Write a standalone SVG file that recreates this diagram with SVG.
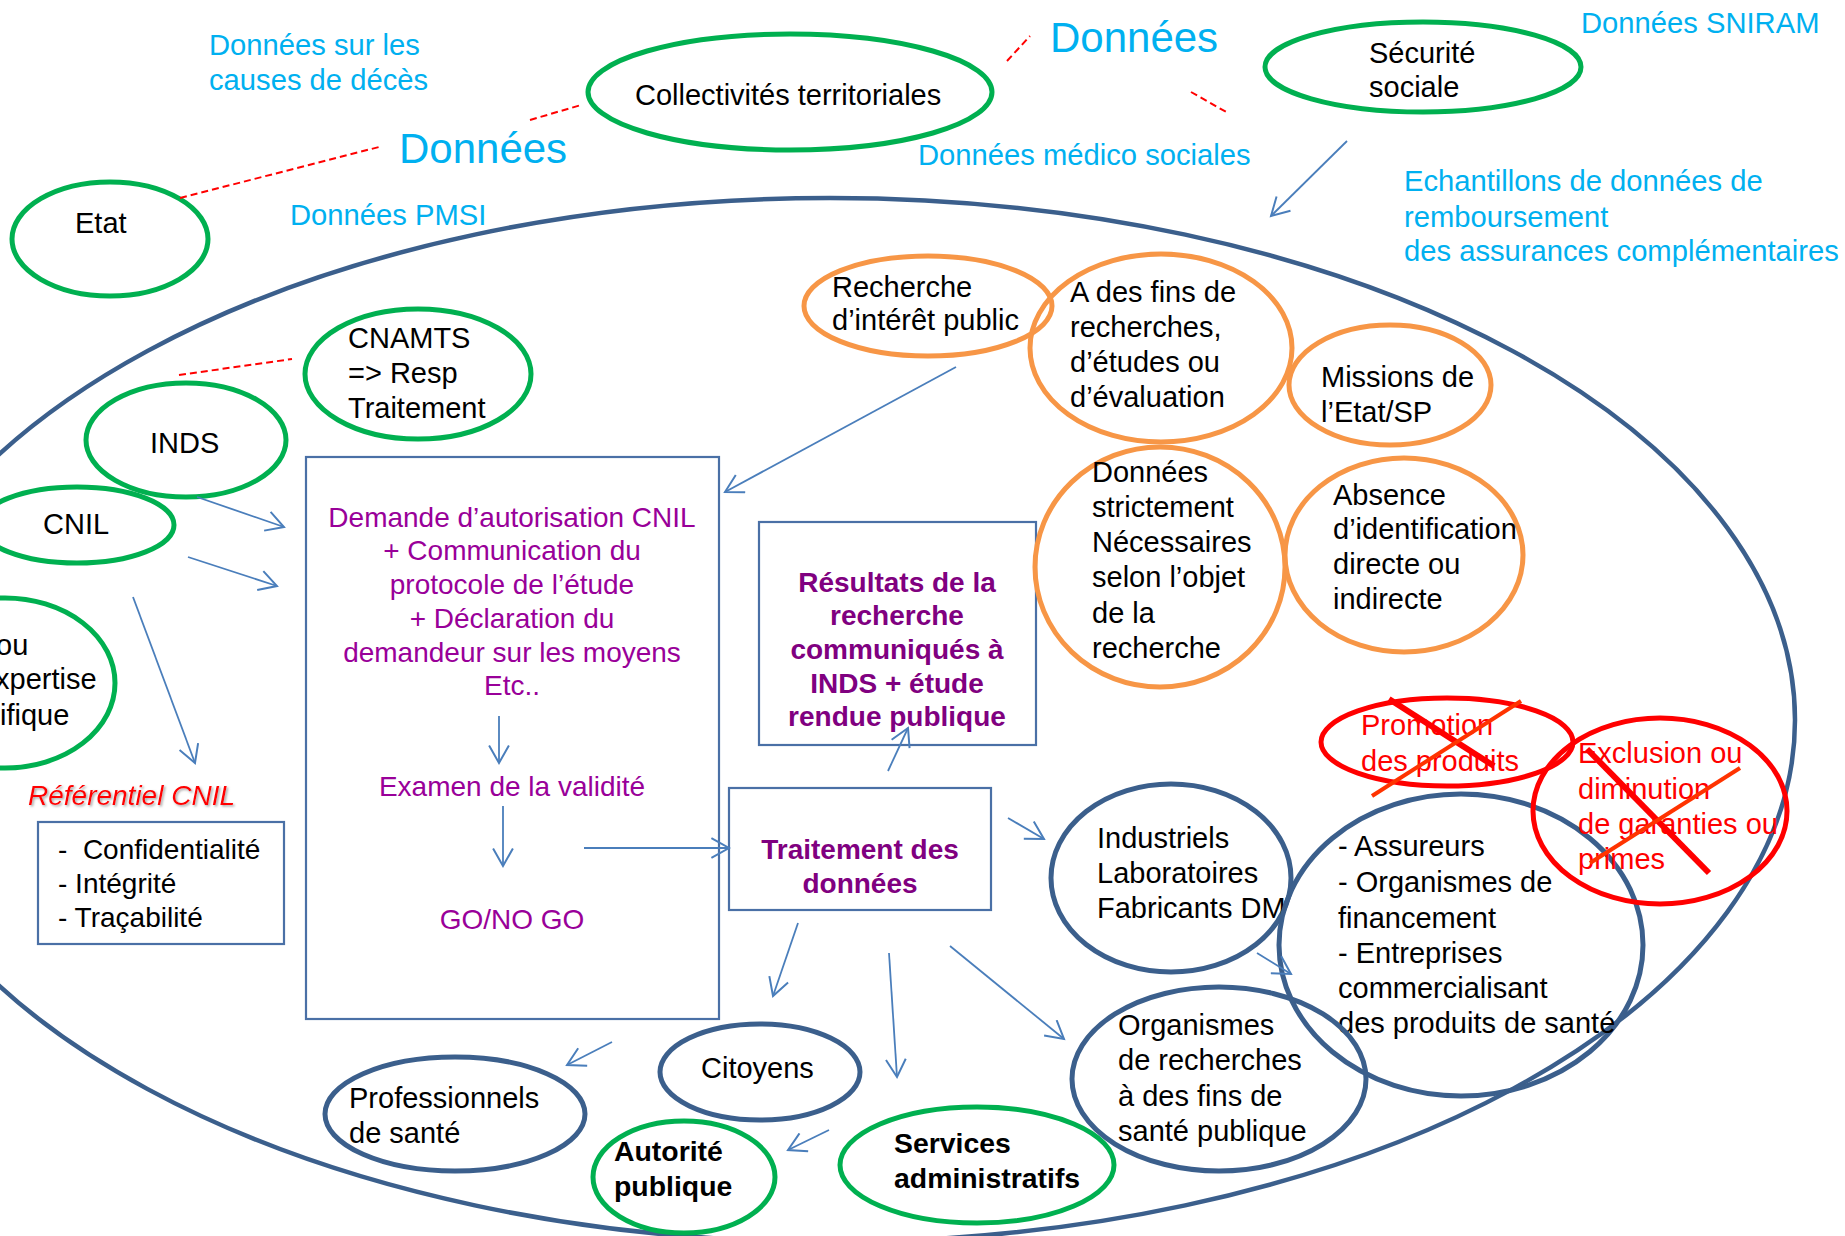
<svg xmlns="http://www.w3.org/2000/svg" width="1845" height="1236" viewBox="0 0 1845 1236">
<style>
.g{fill:none;stroke:#00B050;stroke-width:5}
.o{fill:none;stroke:#F79646;stroke-width:5}
.b{fill:none;stroke:#3B5F8C;stroke-width:5}
.r{fill:none;stroke:#FF0000;stroke-width:5}
.box{fill:none;stroke:#4A70A6;stroke-width:2.2}
.t{font-family:"Liberation Sans",Arial,sans-serif;font-size:29px;fill:#000}
.c{font-family:"Liberation Sans",Arial,sans-serif;font-size:29.2px;fill:#00B0F0}
.rt{font-family:"Liberation Sans",Arial,sans-serif;font-size:29px;fill:#FF0000}
.p{font-family:"Liberation Sans",Arial,sans-serif;font-size:28px;fill:#990099;text-anchor:middle}
.pb{font-family:"Liberation Sans",Arial,sans-serif;font-size:28px;fill:#800080;font-weight:bold;text-anchor:middle}
.ref{font-size:28px}
.bold{font-weight:bold;font-size:28.4px}
.big{font-size:42px}
.arr{fill:none;stroke:#4A7EBB;stroke-width:1.8;marker-end:url(#ah)}
.dash{fill:none;stroke:#FF0000;stroke-width:2;stroke-dasharray:7 4}
.x1{stroke:#FF0000;stroke-width:6}
.x2{stroke:#FF3300;stroke-width:4}
</style>
<defs>
<marker id="ah" markerUnits="userSpaceOnUse" markerWidth="22" markerHeight="22" viewBox="0 0 20 20" refX="18" refY="10" orient="auto">
<path d="M2,1 L18,10 L2,19" fill="none" stroke="#4A7EBB" stroke-width="1.8"/>
</marker>
<filter id="sh" x="-10%" y="-30%" width="120%" height="160%">
<feDropShadow dx="1.5" dy="1.5" stdDeviation="1" flood-color="#808080" flood-opacity="0.7"/>
</filter>
</defs>
<rect width="1845" height="1236" fill="#FFFFFF"/>

<g id="perimetre">
<ellipse cx="830" cy="720" rx="965" ry="522" fill="none" stroke="#3B5F8C" stroke-width="4.5"/>
</g>

<g id="labels">
<text class="c" x="209" y="55">Données sur les</text>
<text class="c" x="209" y="90">causes de décès</text>
<text class="c big" x="399" y="163">Données</text>
<text class="c" x="290" y="225">Données PMSI</text>
<text class="c big" x="1050" y="52">Données</text>
<text class="c" x="918" y="165">Données médico sociales</text>
<text class="c" x="1581" y="33">Données SNIRAM</text>
<text class="c" x="1404" y="191">Echantillons de données de</text>
<text class="c" x="1404" y="227">remboursement</text>
<text class="c" x="1404" y="261">des assurances complémentaires</text>
<text class="rt ref" x="28" y="805" font-style="italic" filter="url(#sh)">Référentiel CNIL</text>
</g>

<g id="etat">
<ellipse class="g" cx="110" cy="239" rx="98" ry="57"/>
<text class="t" x="75" y="233">Etat</text>
</g>
<g id="collectivites">
<ellipse class="g" cx="790" cy="92" rx="202" ry="58"/>
<text class="t" x="635" y="105">Collectivités territoriales</text>
</g>
<g id="securite-sociale">
<ellipse class="g" cx="1423" cy="67" rx="158" ry="45"/>
<text class="t" x="1369" y="63">Sécurité</text>
<text class="t" x="1369" y="97">sociale</text>
</g>
<g id="cnamts">
<ellipse class="g" cx="418" cy="374" rx="113" ry="65"/>
<text class="t" x="348" y="348">CNAMTS</text>
<text class="t" x="348" y="383">=&gt; Resp</text>
<text class="t" x="348" y="418">Traitement</text>
</g>
<g id="inds">
<ellipse class="g" cx="186" cy="440" rx="100" ry="57"/>
<text class="t" x="150" y="453">INDS</text>
</g>
<g id="cnil">
<ellipse class="g" cx="77" cy="525" rx="97" ry="38"/>
<text class="t" x="43" y="534">CNIL</text>
</g>
<g id="expertise">
<ellipse class="g" cx="5" cy="683" rx="110" ry="85"/>
<text class="t" x="-4" y="655">ou</text>
<text class="t" x="-5" y="689">xpertise</text>
<text class="t" x="0" y="725">ifique</text>
</g>

<g id="referentiel">
<rect class="box" x="38" y="822" width="246" height="122"/>
<text class="t ref" x="58" y="859" xml:space="preserve">-  Confidentialité</text>
<text class="t ref" x="58" y="893">- Intégrité</text>
<text class="t ref" x="58" y="927">- Traçabilité</text>
</g>

<g id="demande">
<rect class="box" x="306" y="457" width="413" height="562"/>
<text class="p" x="512" y="527">Demande d’autorisation CNIL</text>
<text class="p" x="512" y="560">+ Communication du</text>
<text class="p" x="512" y="594">protocole de l’étude</text>
<text class="p" x="512" y="628">+ Déclaration du</text>
<text class="p" x="512" y="662">demandeur sur les moyens</text>
<text class="p" x="512" y="695">Etc..</text>
<text class="p" x="512" y="796">Examen de la validité</text>
<text class="p" x="512" y="929">GO/NO GO</text>
</g>

<g id="resultats">
<rect class="box" x="759" y="522" width="277" height="223"/>
<text class="pb" x="897" y="592">Résultats de la</text>
<text class="pb" x="897" y="625">recherche</text>
<text class="pb" x="897" y="659">communiqués à</text>
<text class="pb" x="897" y="693">INDS + étude</text>
<text class="pb" x="897" y="726">rendue publique</text>
</g>

<g id="traitement">
<rect class="box" x="729" y="788" width="262" height="122"/>
<text class="pb" x="860" y="859">Traitement des</text>
<text class="pb" x="860" y="893">données</text>
</g>

<g id="recherche-interet">
<ellipse class="o" cx="928" cy="306" rx="124" ry="50"/>
<text class="t" x="832" y="297">Recherche</text>
<text class="t" x="832" y="330">d’intérêt public</text>
</g>
<g id="fins-recherches">
<ellipse class="o" cx="1161" cy="348" rx="131" ry="94"/>
<text class="t" x="1070" y="302">A des fins de</text>
<text class="t" x="1070" y="337">recherches,</text>
<text class="t" x="1070" y="372">d’études ou</text>
<text class="t" x="1070" y="407">d’évaluation</text>
</g>
<g id="missions">
<ellipse class="o" cx="1390" cy="385" rx="101" ry="60"/>
<text class="t" x="1321" y="387">Missions de</text>
<text class="t" x="1321" y="422">l’Etat/SP</text>
</g>
<g id="donnees-necessaires">
<ellipse class="o" cx="1160" cy="567" rx="125" ry="120"/>
<text class="t" x="1092" y="482">Données</text>
<text class="t" x="1092" y="517">strictement</text>
<text class="t" x="1092" y="552">Nécessaires</text>
<text class="t" x="1092" y="587">selon l’objet</text>
<text class="t" x="1092" y="623">de la</text>
<text class="t" x="1092" y="658">recherche</text>
</g>
<g id="absence">
<ellipse class="o" cx="1404" cy="555" rx="119" ry="97"/>
<text class="t" x="1333" y="505">Absence</text>
<text class="t" x="1333" y="539">d’identification</text>
<text class="t" x="1333" y="574">directe ou</text>
<text class="t" x="1333" y="609">indirecte</text>
</g>

<g id="industriels">
<ellipse class="b" cx="1171" cy="878" rx="120" ry="94"/>
<text class="t" x="1097" y="848">Industriels</text>
<text class="t" x="1097" y="883">Laboratoires</text>
<text class="t" x="1097" y="918">Fabricants DM</text>
</g>
<g id="assureurs">
<ellipse class="b" cx="1461" cy="945" rx="182" ry="151"/>
<text class="t" x="1338" y="856">- Assureurs</text>
<text class="t" x="1338" y="892">- Organismes de</text>
<text class="t" x="1338" y="928">financement</text>
<text class="t" x="1338" y="963">- Entreprises</text>
<text class="t" x="1338" y="998">commercialisant</text>
<text class="t" x="1338" y="1033">des produits de santé</text>
</g>
<g id="organismes">
<ellipse class="b" cx="1219" cy="1079" rx="147" ry="92"/>
<text class="t" x="1118" y="1035">Organismes</text>
<text class="t" x="1118" y="1070">de recherches</text>
<text class="t" x="1118" y="1106">à des fins de</text>
<text class="t" x="1118" y="1141">santé publique</text>
</g>
<g id="citoyens">
<ellipse class="b" cx="760" cy="1072" rx="100" ry="48"/>
<text class="t" x="701" y="1078">Citoyens</text>
</g>
<g id="professionnels">
<ellipse class="b" cx="455" cy="1114" rx="130" ry="57"/>
<text class="t" x="349" y="1108">Professionnels</text>
<text class="t" x="349" y="1143">de santé</text>
</g>
<g id="autorite">
<ellipse class="g" cx="684" cy="1177" rx="91" ry="56"/>
<text class="t bold" x="614" y="1161">Autorité</text>
<text class="t bold" x="614" y="1196">publique</text>
</g>
<g id="services">
<ellipse class="g" cx="977" cy="1165" rx="137" ry="58"/>
<text class="t bold" x="894" y="1153">Services</text>
<text class="t bold" x="894" y="1188">administratifs</text>
</g>

<g id="promotion">
<ellipse class="r" cx="1447" cy="742" rx="126" ry="44"/>
<text class="rt" x="1361" y="735">Promotion</text>
<text class="rt" x="1361" y="771">des produits</text>
<line class="x1" x1="1389" y1="699" x2="1494" y2="766"/>
<line class="x2" x1="1372" y1="796" x2="1521" y2="701"/>
</g>
<g id="exclusion">
<ellipse class="r" cx="1660" cy="811" rx="127" ry="93"/>
<text class="rt" x="1578" y="763">Exclusion ou</text>
<text class="rt" x="1578" y="799">diminution</text>
<text class="rt" x="1578" y="834">de garanties ou</text>
<text class="rt" x="1578" y="869">primes</text>
<line class="x1" x1="1587" y1="749" x2="1709" y2="873"/>
<line class="x2" x1="1590" y1="863" x2="1740" y2="768"/>
</g>

<g id="connectors">
<line class="dash" x1="180" y1="198" x2="379" y2="147"/>
<line class="dash" x1="530" y1="120" x2="581" y2="105"/>
<line class="dash" x1="1007" y1="61" x2="1030" y2="36"/>
<line class="dash" x1="1191" y1="92" x2="1228" y2="113"/>
<line class="dash" x1="179" y1="375" x2="292" y2="359"/>
<line class="arr" x1="1347" y1="141" x2="1271" y2="216"/>
<line class="arr" x1="956" y1="367" x2="725" y2="492"/>
<line class="arr" x1="197" y1="497" x2="284" y2="527"/>
<line class="arr" x1="188" y1="557" x2="277" y2="586"/>
<line class="arr" x1="133" y1="597" x2="195" y2="763"/>
<line class="arr" x1="499" y1="716" x2="499" y2="763"/>
<line class="arr" x1="503" y1="806" x2="503" y2="866"/>
<line class="arr" x1="584" y1="848" x2="729" y2="848"/>
<line class="arr" x1="888" y1="771" x2="908" y2="728"/>
<line class="arr" x1="1008" y1="818" x2="1044" y2="839"/>
<line class="arr" x1="798" y1="923" x2="773" y2="996"/>
<line class="arr" x1="889" y1="953" x2="897" y2="1077"/>
<line class="arr" x1="950" y1="946" x2="1064" y2="1039"/>
<line class="arr" x1="612" y1="1042" x2="567" y2="1065"/>
<line class="arr" x1="829" y1="1130" x2="788" y2="1150"/>
<line class="arr" x1="1257" y1="953" x2="1291" y2="974"/>
</g>
</svg>
